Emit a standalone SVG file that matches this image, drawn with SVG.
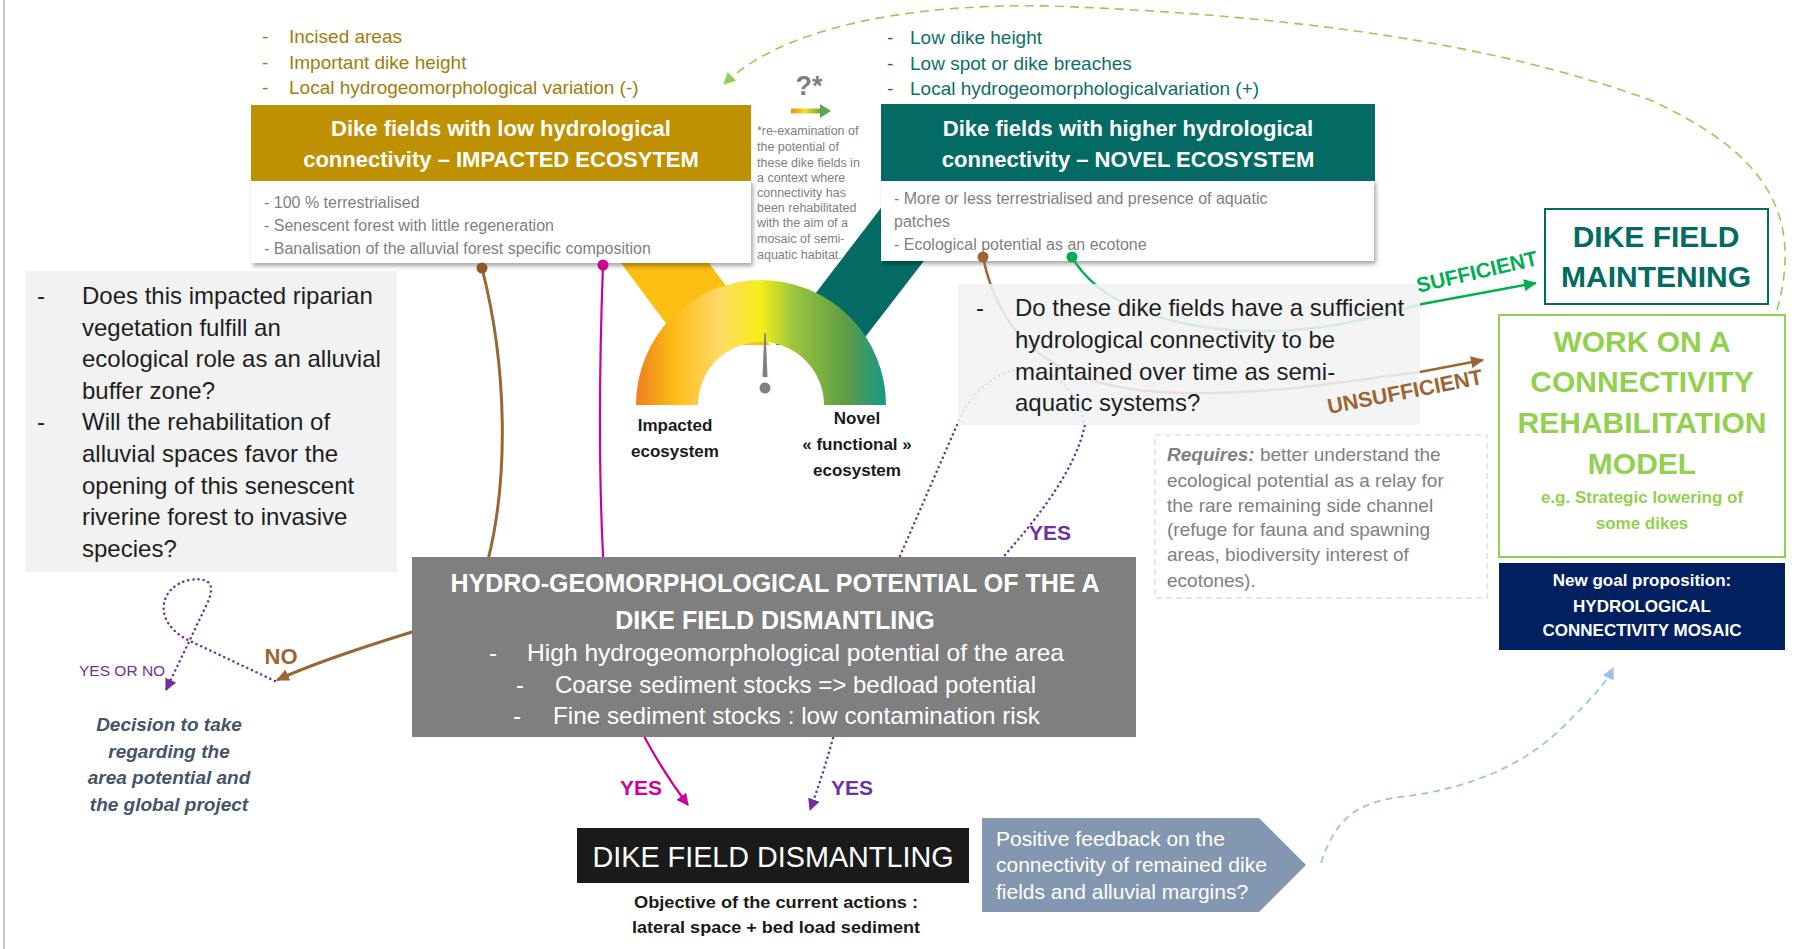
<svg xmlns="http://www.w3.org/2000/svg" width="1794" height="949" viewBox="0 0 1794 949">
<defs>
<style>
text{font-family:"Liberation Sans",Arial,sans-serif}
.gl{font-size:19px;fill:#A07D0C}
.tl{font-size:19px;fill:#0D6F68}
.ttl{font-size:22px;font-weight:bold;fill:#fff;text-anchor:middle}
.wb{font-size:16px;fill:#7F7F7F}
.note{font-size:12.5px;fill:#808080}
.q{font-size:24px;fill:#1E1E1E}
.gaugelbl{font-size:17px;font-weight:bold;fill:#1A1A1A;text-anchor:middle}
.hyd{fill:#fff;text-anchor:middle}
.req{font-size:19px;fill:#808080}
.dec{font-size:19px;font-weight:bold;font-style:italic;fill:#44546A;text-anchor:middle}
.lbl{font-weight:bold}
.big{font-size:30px;font-weight:bold;text-anchor:middle}
.navy{font-size:17px;font-weight:bold;fill:#fff;text-anchor:middle}
.pf{font-size:21px;fill:#fff}
.con{fill:none}
.dot{stroke-width:2.5;stroke-dasharray:0.1,5;stroke-linecap:round}
</style>
<filter id="sh" x="-5%" y="-10%" width="112%" height="130%">
<feDropShadow dx="2" dy="3" stdDeviation="2" flood-color="#000" flood-opacity="0.35"/>
</filter>
<linearGradient id="gauge" gradientUnits="userSpaceOnUse" x1="636" y1="0" x2="886" y2="0">
<stop offset="0" stop-color="#EE7F22"/>
<stop offset="0.15" stop-color="#FCBB12"/>
<stop offset="0.33" stop-color="#FFD966"/>
<stop offset="0.5" stop-color="#F5EF18"/>
<stop offset="0.63" stop-color="#9BC53D"/>
<stop offset="0.84" stop-color="#5E9B45"/>
<stop offset="1" stop-color="#17998B"/>
</linearGradient>
<linearGradient id="small" x1="0" y1="0" x2="1" y2="0">
<stop offset="0" stop-color="#F08A24"/>
<stop offset="0.45" stop-color="#F5E21A"/>
<stop offset="1" stop-color="#5BA74A"/>
</linearGradient>
<marker id="aBrown" markerUnits="userSpaceOnUse" markerWidth="14" markerHeight="12" refX="12" refY="6" orient="auto"><path d="M0,0 L13,6 L0,12 z" fill="#9A6633"/></marker>
<marker id="aMag" markerUnits="userSpaceOnUse" markerWidth="12" markerHeight="12" refX="11" refY="6" orient="auto"><path d="M0,0 L12,6 L0,12 z" fill="#CC0099"/></marker>
<marker id="aGreen" markerUnits="userSpaceOnUse" markerWidth="14" markerHeight="12" refX="12" refY="6" orient="auto"><path d="M0,0 L13,6 L0,12 z" fill="#00B050"/></marker>
<marker id="aPur" markerUnits="userSpaceOnUse" markerWidth="12" markerHeight="12" refX="11" refY="6" orient="auto"><path d="M0,0 L12,6 L0,12 z" fill="#7030A0"/></marker>
<marker id="aLg" markerUnits="userSpaceOnUse" markerWidth="12" markerHeight="12" refX="11" refY="6" orient="auto"><path d="M0,0 L12,6 L0,12 z" fill="#92D050"/></marker>
<marker id="aBlue" markerUnits="userSpaceOnUse" markerWidth="12" markerHeight="12" refX="11" refY="6" orient="auto"><path d="M0,0 L12,6 L0,12 z" fill="#9DC3E6"/></marker>
</defs>

<rect x="0" y="0" width="1794" height="949" fill="#fff"/>
<line x1="4" y1="0" x2="4" y2="949" stroke="#C8C8C8" stroke-width="2"/>

<g id="gauge-node">
<polygon points="615,255 703,255 770,345 682,345" fill="#FDBE12"/>
<polygon points="887,200 971,200 859,345 776,345" fill="#036B63"/>
<path d="M636,405 A125,125 0 0 1 886,405 L824,405 A63,63 0 0 0 698,405 Z" fill="url(#gauge)"/>
<polygon points="764.3,333 765.7,333 767.5,377 762.5,377" fill="#808080"/>
<circle cx="765" cy="388" r="5.5" fill="#808080"/>
<text class="gaugelbl" x="675" y="431">Impacted</text>
<text class="gaugelbl" x="675" y="457">ecosystem</text>
<text class="gaugelbl" x="857" y="424">Novel</text>
<text class="gaugelbl" x="857" y="450">« functional »</text>
<text class="gaugelbl" x="857" y="476">ecosystem</text>
</g>

<g id="low-list">
<text class="gl" x="262" y="43">-</text><text class="gl" x="289" y="43">Incised areas</text>
<text class="gl" x="262" y="69">-</text><text class="gl" x="289" y="69">Important dike height</text>
<text class="gl" x="262" y="94">-</text><text class="gl" x="289" y="94">Local hydrogeomorphological variation (-)</text>
</g>

<g id="impacted-ecosystem">
<rect x="251" y="180" width="500" height="83" fill="#fff" filter="url(#sh)"/>
<rect x="251" y="105" width="500" height="76" fill="#BF9000"/>
<text class="ttl" x="501" y="136">Dike fields with low hydrological</text>
<text class="ttl" x="501" y="167">connectivity – IMPACTED ECOSYTEM</text>
<text class="wb" x="264" y="208">- 100 % terrestrialised</text>
<text class="wb" x="264" y="231">- Senescent forest with little regeneration</text>
<text class="wb" x="264" y="254">- Banalisation of the alluvial forest specific composition</text>
</g>

<g id="note">
<text x="809" y="95" font-size="27" font-weight="bold" fill="#7F7F7F" text-anchor="middle">?*</text>
<rect x="791" y="108.5" width="31" height="5" fill="url(#small)"/>
<polygon points="820,104 831,111 820,118" fill="#5BA74A"/>
<text class="note" x="757" y="134.5">*re-examination of</text>
<text class="note" x="757" y="150.5">the potential of</text>
<text class="note" x="757" y="166.5">these dike fields in</text>
<text class="note" x="757" y="181.5">a context where</text>
<text class="note" x="757" y="196.5">connectivity has</text>
<text class="note" x="757" y="211.5">been rehabilitated</text>
<text class="note" x="757" y="226.5">with the aim of  a</text>
<text class="note" x="757" y="242.5">mosaic of semi-</text>
<text class="note" x="757" y="258.5">aquatic habitat.</text>
</g>

<g id="high-list">
<text class="tl" x="887" y="44">-</text><text class="tl" x="910" y="44">Low dike height</text>
<text class="tl" x="887" y="70">-</text><text class="tl" x="910" y="70">Low spot or dike breaches</text>
<text class="tl" x="887" y="95">-</text><text class="tl" x="910" y="95">Local hydrogeomorphologicalvariation (+)</text>
</g>

<g id="novel-ecosystem">
<rect x="881" y="180" width="493" height="81" fill="#fff" filter="url(#sh)"/>
<rect x="881" y="104" width="494" height="77" fill="#036B63"/>
<text class="ttl" x="1128" y="136">Dike fields with higher hydrological</text>
<text class="ttl" x="1128" y="167">connectivity – NOVEL ECOSYSTEM</text>
<text class="wb" x="894" y="204" font-size="16.5">- More or less terrestrialised and presence of aquatic</text>
<text class="wb" x="894" y="227" font-size="16.5">patches</text>
<text class="wb" x="894" y="250" font-size="16.5">- Ecological potential as an ecotone</text>
</g>

<g id="left-question">
<rect x="25" y="271" width="372" height="301" fill="#F2F2F2"/>
<text class="q" x="37" y="304">-</text>
<text class="q" x="82" y="304">Does this impacted riparian</text>
<text class="q" x="82" y="335.6">vegetation fulfill an</text>
<text class="q" x="82" y="367.2">ecological role as an alluvial</text>
<text class="q" x="82" y="398.8">buffer zone?</text>
<text class="q" x="37" y="430.4">-</text>
<text class="q" x="82" y="430.4">Will the rehabilitation of</text>
<text class="q" x="82" y="462">alluvial spaces favor the</text>
<text class="q" x="82" y="493.6">opening of this senescent</text>
<text class="q" x="82" y="525.2">riverine forest to invasive</text>
<text class="q" x="82" y="556.8">species?</text>
</g>

<g id="connectors">
<path class="con" d="M482,268 C508,370 508,480 488,560 C470,615 440,622 412,632 C360,648 312,664 277,680" stroke="#9A6633" stroke-width="3" marker-end="url(#aBrown)"/>
<path class="con" d="M603,265 C598,400 598,560 612,650 Q625,700 645,738 Q665,775 688,805" stroke="#CC0099" stroke-width="2.2" marker-end="url(#aMag)"/>
<path class="con" d="M983,257 C998,330 1045,385 1160,392 C1260,398 1350,380 1420,372 L1483,360" stroke="#9A6633" stroke-width="2.5" marker-end="url(#aBrown)"/>
<path class="con" d="M1072,257 C1092,292 1140,322 1230,330 C1320,336 1380,315 1422,304 L1536,283" stroke="#00B050" stroke-width="2.5" marker-end="url(#aGreen)"/>
<path class="con dot" d="M900,556 L957,425 C985,355 1065,345 1085,425 C1075,470 1040,515 1004,556" stroke="#7030A0"/>
<path class="con dot" d="M833,738 Q823,775 810,810" stroke="#7030A0" marker-end="url(#aPur)"/>
<path class="con dot" d="M275,681 L190,641 C150,622 160,585 190,580 C215,576 214,590 206,606 L166,690" stroke="#7030A0" marker-end="url(#aPur)"/>
<path class="con" d="M1777,310 C1805,210 1760,150 1650,100 C1500,45 1300,15 1050,6 C900,3 780,30 724,84" stroke="#92D050" stroke-width="1.6" stroke-dasharray="9,6" marker-end="url(#aLg)"/>
<path class="con" d="M1321,863 C1335,820 1355,803 1400,797 C1460,790 1520,770 1565,725 C1590,700 1605,685 1613,668" stroke="#9DC3E6" stroke-width="1.8" stroke-dasharray="7,5" marker-end="url(#aBlue)"/>
<circle cx="482" cy="268" r="5.5" fill="#8B5A2B"/>
<circle cx="603" cy="265" r="5.5" fill="#CC0099"/>
<circle cx="983" cy="257" r="5.5" fill="#9A6633"/>
<circle cx="1072" cy="257" r="5.5" fill="#00B050"/>
<text class="lbl" x="1029" y="540" font-size="21" fill="#7030A0">YES</text>
<text class="lbl" x="641" y="795" font-size="21" fill="#CC0099" text-anchor="middle">YES</text>
<text class="lbl" x="852" y="795" font-size="21" fill="#7030A0" text-anchor="middle">YES</text>
<text class="lbl" x="281" y="664" font-size="22" fill="#9A6633" text-anchor="middle">NO</text>
<text x="79" y="676" font-size="15.5" fill="#7030A0">YES OR NO</text>
</g>

<g id="hydro-potential">
<rect x="412" y="557" width="724" height="180" fill="#7F7F7F"/>
<text class="hyd" x="775" y="592" font-size="25" font-weight="bold" textLength="649" lengthAdjust="spacingAndGlyphs">HYDRO-GEOMORPHOLOGICAL POTENTIAL OF THE A</text>
<text class="hyd" x="775" y="629" font-size="25" font-weight="bold">DIKE FIELD DISMANTLING</text>
<text x="489" y="661" font-size="24" fill="#fff">-</text>
<text x="527" y="661" font-size="24" fill="#fff" textLength="537" lengthAdjust="spacingAndGlyphs">High hydrogeomorphological potential of the area</text>
<text x="516" y="693" font-size="24" fill="#fff">-</text>
<text x="555" y="693" font-size="24" fill="#fff" textLength="481" lengthAdjust="spacingAndGlyphs">Coarse sediment stocks =&gt; bedload potential</text>
<text x="513" y="724" font-size="24" fill="#fff">-</text>
<text x="553" y="724" font-size="24" fill="#fff" textLength="487" lengthAdjust="spacingAndGlyphs">Fine sediment stocks : low contamination risk</text>
</g>

<g id="right-question">
<rect x="958" y="284" width="462" height="141" fill="#F2F2F2" fill-opacity="0.88"/>
<text class="q" x="976" y="316">-</text>
<text class="q" x="1015" y="316">Do these dike fields have a sufficient</text>
<text class="q" x="1015" y="348">hydrological connectivity to be</text>
<text class="q" x="1015" y="380">maintained over time as semi-</text>
<text class="q" x="1015" y="411">aquatic systems?</text>
</g>

<g id="connector-labels">
<text class="lbl" transform="translate(1477,272) rotate(-13)" x="0" y="7" font-size="21" fill="#00B050" text-anchor="middle">SUFFICIENT</text>
<text class="lbl" transform="translate(1405,392) rotate(-11)" x="0" y="7" font-size="21.5" fill="#9A6633" text-anchor="middle">UNSUFFICIENT</text>
</g>

<g id="requires">
<rect x="1155" y="435" width="332" height="163" fill="#fff" stroke="#E0E0E0" stroke-width="1.5" stroke-dasharray="6,4"/>
<text class="req" x="1167" y="461"><tspan font-weight="bold" font-style="italic">Requires:</tspan> better understand the</text>
<text class="req" x="1167" y="487">ecological potential as a relay for</text>
<text class="req" x="1167" y="512">the rare remaining side channel</text>
<text class="req" x="1167" y="536">(refuge for fauna and spawning</text>
<text class="req" x="1167" y="561">areas, biodiversity interest of</text>
<text class="req" x="1167" y="587">ecotones).</text>
</g>

<g id="maintening">
<rect x="1545" y="209" width="223" height="95" fill="#fff" stroke="#036B63" stroke-width="2"/>
<text class="big" x="1656" y="247" fill="#036B63">DIKE FIELD</text>
<text class="big" x="1656" y="287" fill="#036B63">MAINTENING</text>
</g>

<g id="rehabilitation-model">
<rect x="1499" y="315" width="286" height="242" fill="#fff" stroke="#92D050" stroke-width="2"/>
<text class="big" x="1642" y="352" fill="#92D050">WORK ON A</text>
<text class="big" x="1642" y="392" fill="#92D050">CONNECTIVITY</text>
<text class="big" x="1642" y="433" fill="#92D050">REHABILITATION</text>
<text class="big" x="1642" y="474" fill="#92D050">MODEL</text>
<text x="1642" y="503" font-size="17" font-weight="bold" fill="#92D050" text-anchor="middle">e.g. Strategic lowering of</text>
<text x="1642" y="529" font-size="17" font-weight="bold" fill="#92D050" text-anchor="middle">some dikes</text>
</g>

<g id="new-goal">
<rect x="1499" y="563" width="286" height="87" fill="#002060"/>
<text class="navy" x="1642" y="586">New goal proposition:</text>
<text class="navy" x="1642" y="612">HYDROLOGICAL</text>
<text class="navy" x="1642" y="636">CONNECTIVITY MOSAIC</text>
</g>

<g id="decision">
<text class="dec" x="169" y="731">Decision to take</text>
<text class="dec" x="169" y="758">regarding the</text>
<text class="dec" x="169" y="784">area potential and</text>
<text class="dec" x="169" y="811">the global project</text>
</g>

<g id="dismantling">
<rect x="577" y="828" width="392" height="55" fill="#1A1A1A"/>
<text x="773" y="867" font-size="29" fill="#fff" text-anchor="middle" textLength="361" lengthAdjust="spacingAndGlyphs">DIKE FIELD DISMANTLING</text>
<text x="776" y="908" font-size="17" font-weight="bold" fill="#1A1A1A" text-anchor="middle" textLength="284" lengthAdjust="spacingAndGlyphs">Objective of the current actions :</text>
<text x="776" y="933" font-size="17" font-weight="bold" fill="#1A1A1A" text-anchor="middle" textLength="288" lengthAdjust="spacingAndGlyphs">lateral space + bed load sediment</text>
</g>

<g id="positive-feedback">
<polygon points="982,818 1259,818 1306,865 1259,912 982,912" fill="#8497B0"/>
<text class="pf" x="996" y="846">Positive feedback on the</text>
<text class="pf" x="996" y="872">connectivity of remained dike</text>
<text class="pf" x="996" y="899">fields and alluvial margins?</text>
</g>
</svg>
